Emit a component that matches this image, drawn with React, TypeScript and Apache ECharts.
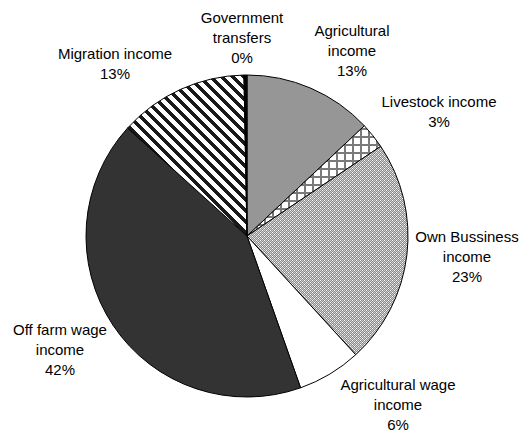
import React, { useEffect, useRef } from "react";
import * as echarts from "echarts";

const categories = [
  "Agricultural income",
  "Livestock income",
  "Own Bussiness income",
  "Agricultural wage income",
  "Off farm wage income",
  "Migration income",
  "Government transfers",
];
const shares = [13.0, 2.6, 22.6, 6.4, 42.1, 13.0, 0.3];
const labelNames = [
  "Agricultural\nincome",
  "Livestock income",
  "Own Bussiness\nincome",
  "Agricultural wage\nincome",
  "Off farm wage\nincome",
  "Migration income",
  "Government\ntransfers",
];
// label anchor points (layout only)
const labelAnchors: [number, number][] = [
  [352, 50],
  [439, 111],
  [467, 256],
  [398, 404],
  [60, 349],
  [115, 63],
  [242, 37],
];

function makeTile(size: number, fn: (x: number, y: number) => string | null, bg: string) {
  const c = document.createElement("canvas");
  c.width = size;
  c.height = size;
  const ctx = c.getContext("2d")!;
  ctx.fillStyle = bg;
  ctx.fillRect(0, 0, size, size);
  for (let y = 0; y < size; y++) {
    for (let x = 0; x < size; x++) {
      const col = fn(x, y);
      if (col) {
        ctx.fillStyle = col;
        ctx.fillRect(x, y, 1, 1);
      }
    }
  }
  return { image: c, repeat: "repeat", imageWidth: size, imageHeight: size } as any;
}

export default function App() {
  const ref = useRef<HTMLDivElement>(null);
  useEffect(() => {
    if (!ref.current) return;
    const chart = echarts.init(ref.current, null, { renderer: "svg" });

    const gridTile = makeTile(
      8,
      (x, y) => (x < 2 || y < 2 ? "#7a7a7a" : null),
      "#ffffff"
    );
    const dotTile = makeTile(
      4,
      (x, y) => {
        if ((x === 0 && y === 0) || (x === 2 && y === 2)) return "#ffffff";
        if ((x + y) % 2 === 1) return "#8a8a8a";
        return "#d0d0d0";
      },
      "#a0a0a0"
    );
    const stripeTile = makeTile(
      11,
      (x, y) => (((x - y) % 11) + 11) % 11 < 5 ? "#1a1a1a" : null,
      "#ffffff"
    );

    const fills: any[] = [
      "#969696",
      gridTile,
      dotTile,
      "#ffffff",
      "#333333",
      stripeTile,
      "#000000",
    ];

    chart.setOption({
      animation: false,
      backgroundColor: "#ffffff",
      series: [
        {
          type: "pie",
          center: [247, 236],
          radius: 161,
          startAngle: 90,
          clockwise: true,
          percentPrecision: 0,
          avoidLabelOverlap: false,
          itemStyle: { borderColor: "#000000", borderWidth: 1 },
          emphasis: { disabled: true },
          label: {
            show: true,
            position: "outside",
            fontFamily: "Liberation Sans, Arial, sans-serif",
            fontSize: 15,
            lineHeight: 20,
            color: "#000000",
            align: "center",
            formatter: (p: any) => `${labelNames[p.dataIndex]}\n${p.percent}%`,
          },
          labelLine: { show: false },
          labelLayout: (p: any) => {
            const a = labelAnchors[p.dataIndex];
            return { x: a[0], y: a[1], align: "center", verticalAlign: "middle" };
          },
          data: categories.map((name, i) => ({
            name,
            value: shares[i],
            itemStyle: { color: fills[i] },
          })),
        },
      ],
    });
    return () => chart.dispose();
  }, []);
  return (
    <div
      ref={ref}
      style={{ position: "fixed", left: 0, top: 0, width: 525, height: 434 }}
    />
  );
}
